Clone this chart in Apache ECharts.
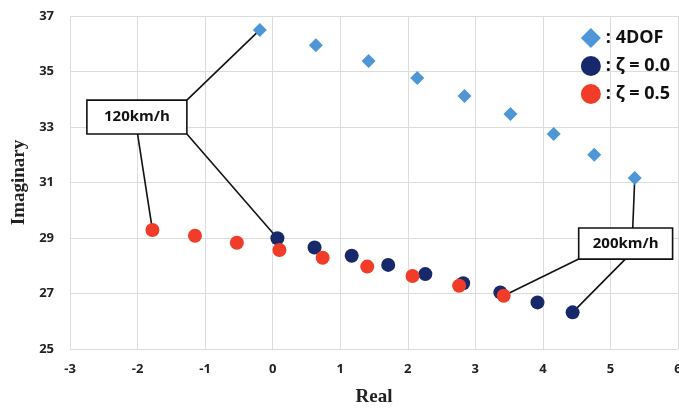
<!DOCTYPE html>
<html>
<head>
<meta charset="utf-8">
<script src="https://cdn.jsdelivr.net/npm/echarts@6/dist/echarts.min.js"></script>
<style>
  html, body { margin: 0; padding: 0; background: #fff; }
  #chart { width: 679px; height: 410px; }
</style>
</head>
<body>
<div id="chart"></div>
<script>
// 数据: 从图上读出来的 (real, imaginary)
const dof4 = [
  [-0.19, 36.5], [0.64, 35.95], [1.42, 35.38], [2.14, 34.77], [2.84, 34.12],
  [3.52, 33.47], [4.16, 32.75], [4.76, 32.0], [5.36, 31.16]
]
const zeta00 = [
  [0.07, 28.99], [0.62, 28.66], [1.17, 28.36], [1.71, 28.03], [2.26, 27.7],
  [2.82, 27.37], [3.37, 27.04], [3.92, 26.68], [4.44, 26.32]
]
const zeta05 = [
  [-1.78, 29.29], [-1.15, 29.08], [-0.53, 28.83], [0.1, 28.57], [0.74, 28.29],
  [1.4, 27.97], [2.07, 27.63], [2.76, 27.28], [3.42, 26.92]
]
const seriesNames = [': 4DOF', ': ζ = 0.0', ': ζ = 0.5']
const speedLabels = ['120km/h', '200km/h']

let blue = '#4f96d6'
let navy = '#17296a'
let red = '#f03c28'

let tickFont = { color: '#222', fontWeight: 'bold', fontSize: 13, fontFamily: 'Open Sans' }
let titleFont = { color: '#222', fontSize: 19, fontWeight: 'bold', fontFamily: 'Liberation Serif' }

let option = {
  animation: false,
  grid: { left: 70, right: 1, top: 16, bottom: 61, outerBoundsMode: 'none' },
  legend: {
    orient: 'vertical',
    right: 4,
    top: 23,
    itemWidth: 20,
    itemHeight: 20,
    itemGap: 8,
    textStyle: { color: '#111', fontWeight: 'bold', fontSize: 18, fontFamily: 'Open Sans' },
    data: [
      { name: seriesNames[0], icon: 'diamond' },
      { name: seriesNames[1], icon: 'circle' },
      { name: seriesNames[2], icon: 'circle' }
    ]
  },
  xAxis: {
    type: 'value',
    min: -3,
    max: 6,
    interval: 1,
    name: 'Real',
    nameLocation: 'middle',
    nameGap: 39,
    nameTextStyle: titleFont,
    axisLine: { show: false },
    axisTick: { show: false },
    axisLabel: Object.assign({ margin: 14 }, tickFont),
    splitLine: { lineStyle: { color: '#dcdcdc' } }
  },
  yAxis: {
    type: 'value',
    min: 25,
    max: 37,
    interval: 2,
    name: 'Imaginary',
    nameLocation: 'middle',
    nameGap: 39,
    nameTextStyle: titleFont,
    axisLine: { show: false },
    axisTick: { show: false },
    axisLabel: Object.assign({ margin: 16 }, tickFont),
    splitLine: { lineStyle: { color: '#dcdcdc' } }
  },
  series: [
    {
      name: seriesNames[0], type: 'scatter', symbol: 'diamond', symbolSize: 14,
      itemStyle: { color: blue, opacity: 1 }, data: dof4, z: 3
    },
    {
      name: seriesNames[1], type: 'scatter', symbol: 'circle', symbolSize: 14,
      itemStyle: { color: navy, opacity: 1 }, data: zeta00, z: 3
    },
    {
      name: seriesNames[2], type: 'scatter', symbol: 'circle', symbolSize: 14,
      itemStyle: { color: red, opacity: 1 }, data: zeta05, z: 4
    }
  ]
}

let myChart = echarts.init(document.getElementById('chart'))
myChart.setOption(option)

// 标注框 (data 坐标), 线连到第一个/最后一个点
const px = p => myChart.convertToPixel({ gridIndex: 0 }, p)

const drawNote = (text, box, links) => {
  let a = px([box[0], box[1]])
  let b = px([box[2], box[3]])
  let els = links.map(l => {
    let s = px(l[0])
    let e = px(l[1])
    return {
      type: 'line', z: 1,
      shape: { x1: s[0], y1: s[1], x2: e[0], y2: e[1] },
      style: { stroke: '#111', lineWidth: 1.6 }
    }
  })
  els.push({
    type: 'rect', z: 2,
    shape: { x: a[0], y: a[1], width: b[0] - a[0], height: b[1] - a[1] },
    style: { fill: '#fff', stroke: '#111', lineWidth: 1.6 }
  })
  els.push({
    type: 'text', z: 2,
    x: (a[0] + b[0]) / 2, y: (a[1] + b[1]) / 2,
    style: {
      text: text, fill: '#111', fontWeight: 'bold', fontSize: 15, fontFamily: 'Open Sans',
      align: 'center', verticalAlign: 'middle'
    }
  })
  return els
}

let last = dof4.length - 1
let graphics = []
  .concat(drawNote(speedLabels[0], [-2.75, 33.97, -1.27, 32.75], [
    [[-1.27, 33.97], dof4[0]],
    [[-1.27, 32.75], zeta00[0]],
    [[-2.0, 32.75], zeta05[0]]
  ]))
  .concat(drawNote(speedLabels[1], [4.53, 29.36, 5.92, 28.24], [
    [[5.33, 29.36], dof4[last]],
    [[4.53, 28.24], zeta05[last]],
    [[5.22, 28.24], zeta00[last]]
  ]))

myChart.setOption({ graphic: graphics })
</script>
</body>
</html>
